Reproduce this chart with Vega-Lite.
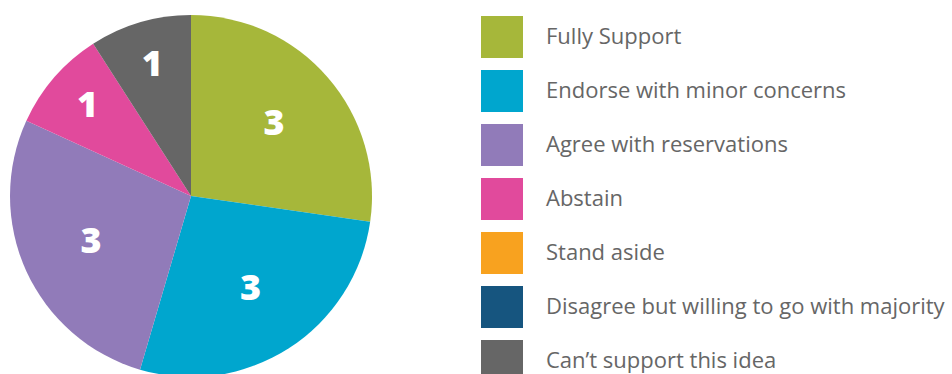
{
  "$schema": "https://vega.github.io/schema/vega-lite/v6.json",
  "width": 382,
  "height": 392,
  "padding": 0,
  "autosize": {"type": "pad"},
  "background": "white",
  "config": {"view": {"stroke": null}},
  "data": {
    "values": [
      {"category": "Fully Support", "value": 3, "rank": 1},
      {"category": "Endorse with minor concerns", "value": 3, "rank": 2},
      {"category": "Agree with reservations", "value": 3, "rank": 3},
      {"category": "Abstain", "value": 1, "rank": 4},
      {"category": "Stand aside", "value": 0, "rank": 5},
      {"category": "Disagree but willing to go with majority", "value": 0, "rank": 6},
      {"category": "Can’t support this idea", "value": 1, "rank": 7}
    ]
  },
  "encoding": {
    "theta": {"field": "value", "type": "quantitative", "stack": true},
    "order": {"field": "rank", "type": "quantitative"}
  },
  "layer": [
    {
      "mark": {"type": "arc", "outerRadius": 181},
      "encoding": {
        "color": {
          "field": "category",
          "type": "nominal",
          "scale": {
            "domain": ["Fully Support", "Endorse with minor concerns", "Agree with reservations", "Abstain", "Stand aside", "Disagree but willing to go with majority", "Can’t support this idea"],
            "range": ["#A6B73A", "#00A6CE", "#917BB9", "#E14A9C", "#F8A21F", "#16557F", "#666666"]
          },
          "legend": {
            "title": null,
            "orient": "none",
            "legendX": 481,
            "legendY": 16,
            "padding": 0,
            "symbolType": "square",
            "symbolSize": 1764,
            "symbolStrokeWidth": 0,
            "symbolOpacity": 1,
            "rowPadding": 12,
            "labelOffset": 23,
            "labelFont": "Open Sans",
            "labelFontSize": 22,
            "labelColor": "#666666",
            "labelLimit": 500
          }
        }
      }
    },
    {
      "transform": [{"filter": "datum.value > 0"}],
      "mark": {"type": "text", "font": "Open Sans", "fontWeight": 800, "fontSize": 36, "color": "white", "baseline": "middle", "align": "center"},
      "encoding": {
        "text": {"field": "value", "type": "quantitative"},
        "radius": {"field": "value", "type": "quantitative", "scale": {"type": "linear", "domain": [1, 3], "range": [137, 110], "zero": false}}
      }
    }
  ]
}
